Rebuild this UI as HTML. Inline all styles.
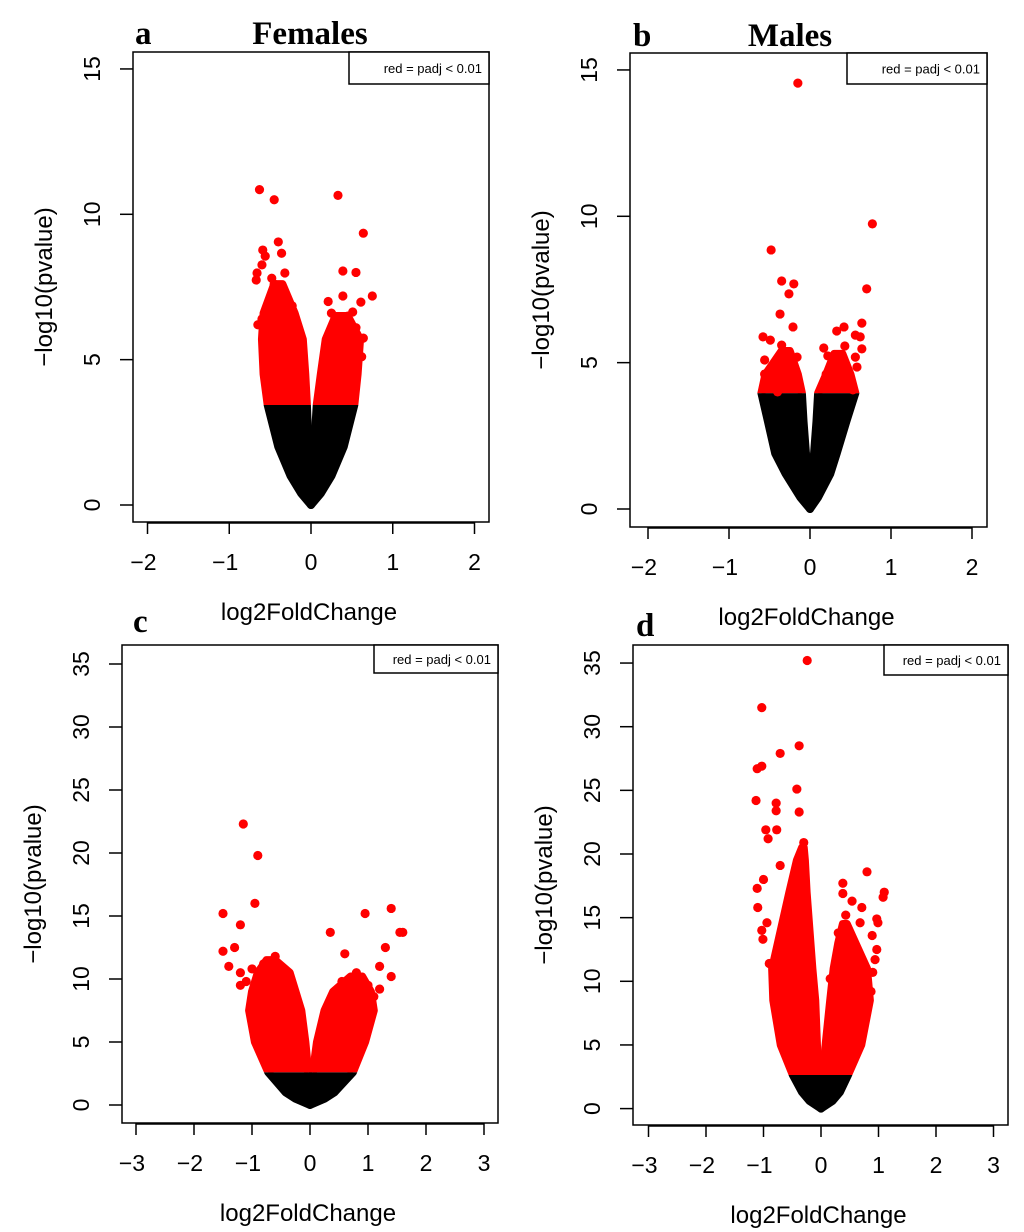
<!DOCTYPE html>
<html><head><meta charset="utf-8">
<style>
html,body{margin:0;padding:0;background:#fff;}
svg{display:block;}
.tk{font-family:"Liberation Sans",sans-serif;font-size:23px;fill:#000;}
.lab{font-family:"Liberation Sans",sans-serif;font-size:24px;fill:#000;}
.ser{font-family:"Liberation Serif",serif;font-weight:bold;font-size:33px;fill:#000;}
.leg{font-family:"Liberation Sans",sans-serif;font-size:13px;fill:#000;}
</style></head>
<body>
<svg id="fig" width="1024" height="1232" viewBox="0 0 1024 1232" xmlns="http://www.w3.org/2000/svg">
<text class="ser" x="135" y="44">a</text>
<text class="ser" x="310" y="44" text-anchor="middle">Females</text>
<text class="ser" x="633" y="46">b</text>
<text class="ser" x="790" y="46" text-anchor="middle">Males</text>
<text class="ser" x="133" y="632">c</text>
<text class="ser" x="636" y="636">d</text>
</svg>
<script>
// ---- data: panel a (Females) ----
const aLLevels=[0,0.4,1,2,3.44,4.5,5.7,6.6,7.6];
const aLeftOuter=[0,-0.12,-0.25,-0.4,-0.53,-0.58,-0.6,-0.58,-0.45];
const aLeftInner=[0,-0.01,-0.01,-0.03,-0.05,-0.07,-0.1,-0.2,-0.35];
const aRLevels=[0,0.4,1,2,3.44,4.5,5.7,6.5];
const aRightOuter=[0,0.12,0.25,0.4,0.53,0.57,0.6,0.45];
const aRightInner=[0,0.01,0.02,0.04,0.07,0.12,0.18,0.3];
const aPtX=[-0.63,-0.45,0.33,-0.40,-0.59,-0.36,-0.56,-0.60,-0.66,-0.67,-0.32,0.64,0.39,0.55,0.39,0.75,0.61,0.21,0.64,0.62,-0.65,-0.48,-0.23,0.51,-0.45,-0.4,-0.5,-0.3,-0.55,-0.6,0.25,0.3,0.45,0.55,0.35];
const aPtY=[10.85,10.5,10.65,9.05,8.77,8.66,8.56,8.26,7.98,7.74,7.98,9.35,8.05,8.0,7.19,7.19,6.98,7.0,5.74,5.1,6.2,7.8,6.85,6.64,7.6,7.3,7.0,6.9,6.7,6.4,6.6,6.4,6.5,6.1,6.3];
const aThreshold=3.44;
// ---- data: panel b (Males) ----
const bLLevels=[0,0.4,1.2,1.9,3.0,3.96,4.6,5.4];
const bLeftOuter=[0,-0.12,-0.3,-0.43,-0.52,-0.6,-0.55,-0.35];
const bLeftInner=[0,-0.01,-0.02,-0.05,-0.08,-0.1,-0.15,-0.25];
const bRLevels=[0,0.4,1.2,1.9,3.0,3.96,4.6,5.3];
const bRightOuter=[0,0.1,0.25,0.33,0.45,0.56,0.5,0.4];
const bRightInner=[0,0.01,0.02,0.05,0.08,0.1,0.2,0.3];
const bPtX=[-0.15,0.77,-0.48,-0.35,-0.2,-0.26,0.7,-0.37,-0.21,-0.58,-0.49,0.64,0.33,0.42,0.56,0.62,0.17,0.43,0.64,0.22,-0.56,-0.35,-0.16,0.56,-0.56,0.2,0.58,-0.53,-0.4,0.53,-0.19,0.41];
const bPtY=[14.55,9.74,8.85,7.79,7.69,7.35,7.52,6.66,6.22,5.88,5.77,6.35,6.08,6.22,5.94,5.88,5.5,5.57,5.47,5.23,5.09,5.6,5.19,5.19,4.61,4.61,4.85,4.24,4.0,4.07,4.65,4.41];
const bThreshold=3.96;
// ---- data: panel c ----
const cLLevels=[0,0.5,1,2.6,5,7.5,9,10.5,11.5];
const cLeftOuter=[0,-0.25,-0.42,-0.72,-0.95,-1.05,-1.0,-0.9,-0.75];
const cLeftInner=[0,-0.01,-0.01,-0.03,-0.08,-0.15,-0.25,-0.35,-0.6];
const cRLevels=[0,0.5,1,2.6,5,7.5,9,10.2];
const cRightOuter=[0,0.25,0.42,0.74,0.95,1.1,1.05,0.9];
const cRightInner=[0,0.01,0.01,0.05,0.12,0.25,0.4,0.7];
const cPtX=[-1.15,-0.9,-0.95,-1.5,1.4,0.95,-1.5,-1.2,1.55,1.6,0.35,-1.3,-1.4,1.3,0.6,-0.6,1.2,1.4,-1.2,-0.7,-1.0,-0.9,-0.8,-0.6,-1.1,0.8,0.9,0.7,1.0,0.55,1.2,-1.2,1.1];
const cPtY=[22.3,19.8,16.0,15.2,15.6,15.2,12.2,14.3,13.7,13.7,13.7,12.5,11.0,12.5,12.0,11.8,11.0,10.2,10.5,11.2,10.8,10.3,11.2,10.5,9.8,10.5,10.0,9.8,9.5,9.8,9.2,9.5,8.6];
const cThreshold=2.6;
// ---- data: panel d ----
const dLLevels=[0,0.6,1.3,2.64,5,8.5,11,14,17,19.5,20.5];
const dLeftOuter=[0,-0.2,-0.33,-0.49,-0.7,-0.83,-0.85,-0.7,-0.55,-0.42,-0.33];
const dLeftInner=[0,-0.01,-0.02,-0.04,-0.07,-0.1,-0.15,-0.2,-0.25,-0.28,-0.3];
const dRLevels=[0,0.6,1.3,2.64,5,8.5,11,13,14.5];
const dRightOuter=[0,0.2,0.33,0.47,0.7,0.85,0.8,0.6,0.45];
const dRightInner=[0,0.01,0.02,0.03,0.08,0.16,0.22,0.3,0.38];
const dPtX=[-0.24,-1.03,-0.38,-0.71,-1.03,-1.11,-0.42,-1.13,-0.78,-0.78,-0.38,-0.96,-0.77,-0.92,-0.3,-0.71,-1.0,-1.11,-1.1,0.8,0.38,1.1,1.08,0.38,0.54,0.71,0.43,0.97,0.99,0.68,0.89,0.97,0.94,0.9,0.87,-1.03,-1.01,-0.9,-0.8,-0.94,0.3,0.3,0.16];
const dPtY=[35.2,31.5,28.5,27.9,26.9,26.7,25.1,24.2,24.0,23.4,23.3,21.9,21.9,21.2,20.9,19.1,18.0,17.3,15.8,18.6,17.7,17.0,16.6,16.9,16.3,15.8,15.2,14.9,14.6,14.6,13.6,12.5,11.7,10.7,9.2,14.0,13.3,11.4,8.6,14.6,13.8,12.5,10.2];
const dThreshold=2.64;
// tick labels
const xTicksAB=[-2,-1,0,1,2];
const xTicksCD=[-3,-2,-1,0,1,2,3];
const yTicksAB=[0,5,10,15];
const yTicksCD=[0,5,10,15,20,25,30,35];

const NS="http://www.w3.org/2000/svg";
const svg=document.getElementById('fig');
function mk(tag,attrs,parent){const e=document.createElementNS(NS,tag);for(const k in attrs)e.setAttribute(k,attrs[k]);(parent||svg).appendChild(e);return e;}

function panel(id,box,x0,xs,y0,ys,xt,yt,lLv,lo,li,rLv,ro,ri,thr,px,py,leg){
  const g=mk('g',{});
  
  
  const X=v=>x0+v*xs, Y=v=>y0-v*ys;
  const defs=mk('defs',{},g);
  const cb=mk('clipPath',{id:'cb'+id},defs);
  mk('rect',{x:box[0],y:Y(thr),width:box[2]-box[0],height:box[3]-Y(thr)},cb);
  const cr=mk('clipPath',{id:'cr'+id},defs);
  mk('rect',{x:box[0],y:box[1],width:box[2]-box[0],height:Y(thr)-box[1]},cr);
  function lobe(lv,outer,inner){
    let pts=[];
    for(let i=0;i<lv.length;i++)pts.push(X(outer[i])+','+Y(lv[i]));
    for(let i=lv.length-1;i>=0;i--)pts.push(X(inner[i])+','+Y(lv[i]));
    return pts.join(' ');
  }
  [['left',lLv,lo,li],['right',rLv,ro,ri]].forEach(([side,lv,o,inn])=>{
    const pb=mk('polygon',{points:lobe(lv,o,inn),fill:'#000',stroke:'#000','stroke-width':8,'stroke-linejoin':'round','clip-path':'url(#cb'+id+')'},g);
    
    
    const pr=mk('polygon',{points:lobe(lv,o,inn),fill:'#f00',stroke:'#f00','stroke-width':8,'stroke-linejoin':'round','clip-path':'url(#cr'+id+')'},g);
    
    
  });
  for(let i=0;i<px.length;i++){
    const c=mk('circle',{cx:X(px[i]),cy:Y(py[i]),r:4.6,fill:'#f00'},g);
    
    
  }
  const fr=mk('rect',{x:box[0],y:box[1],width:box[2]-box[0],height:box[3]-box[1],fill:'none',stroke:'#000','stroke-width':1.5},g);
  
  
  const lr=mk('rect',{x:leg[0],y:box[1],width:box[2]-leg[0],height:leg[1]-box[1],fill:'#fff',stroke:'#000','stroke-width':1.5},g);
  
  
  const lt=mk('text',{x:box[2]-7,y:(box[1]+leg[1])/2+5,'text-anchor':'end',class:'leg'},g);
  lt.textContent='red = padj < 0.01';
  
  
  xt.forEach(t=>{
    const l=mk('line',{x1:X(t),x2:X(t),y1:box[3],y2:box[3]+12,stroke:'#000','stroke-width':1.5},g);
    
    
    const tx=mk('text',{x:X(t)-(t<0?4:0),y:box[3]+48,'text-anchor':'middle',class:'tk'},g);
    tx.textContent=(t<0?'\u2212':'')+Math.abs(t);
    
    
  });
  mk('line',{x1:X(xt[0]),x2:X(xt[xt.length-1]),y1:box[3]+1,y2:box[3]+1,stroke:'#000','stroke-width':1.5},g);
  const xl=mk('text',{x:(box[0]+box[2])/2-2,y:box[3]+98,'text-anchor':'middle',class:'lab'},g);
  xl.textContent='log2FoldChange';
  
  
  yt.forEach(t=>{
    const l=mk('line',{x1:box[0]-13,x2:box[0],y1:Y(t),y2:Y(t),stroke:'#000','stroke-width':1.5},g);
    
    
    const tx=mk('text',{x:0,y:0,'text-anchor':'middle',class:'tk',transform:`translate(${box[0]-33},${Y(t)}) rotate(-90)`},g);
    tx.textContent=String(t);
    
    
  });
  const yl=mk('text',{x:0,y:0,'text-anchor':'middle',class:'lab',transform:`translate(${box[0]-81},${(box[1]+box[3])/2}) rotate(-90)`},g);
  yl.textContent='\u2212log10(pvalue)';
  
  
}
panel('a',[133,52,489,522],311,81.75,505,29.07,xTicksAB,yTicksAB,aLLevels,aLeftOuter,aLeftInner,aRLevels,aRightOuter,aRightInner,aThreshold,aPtX,aPtY,[349,84]);
panel('b',[630,53,987,527],810,81,509,29.27,xTicksAB,yTicksAB,bLLevels,bLeftOuter,bLeftInner,bRLevels,bRightOuter,bRightInner,bThreshold,bPtX,bPtY,[847,84]);
panel('c',[122,645,498,1123],310,58,1105,12.6,xTicksCD,yTicksCD,cLLevels,cLeftOuter,cLeftInner,cRLevels,cRightOuter,cRightInner,cThreshold,cPtX,cPtY,[374,673]);
panel('d',[633,645,1008,1125],821,57.5,1108.6,12.73,xTicksCD,yTicksCD,dLLevels,dLeftOuter,dLeftInner,dRLevels,dRightOuter,dRightInner,dThreshold,dPtX,dPtY,[884,675]);
</script>
</body></html>
